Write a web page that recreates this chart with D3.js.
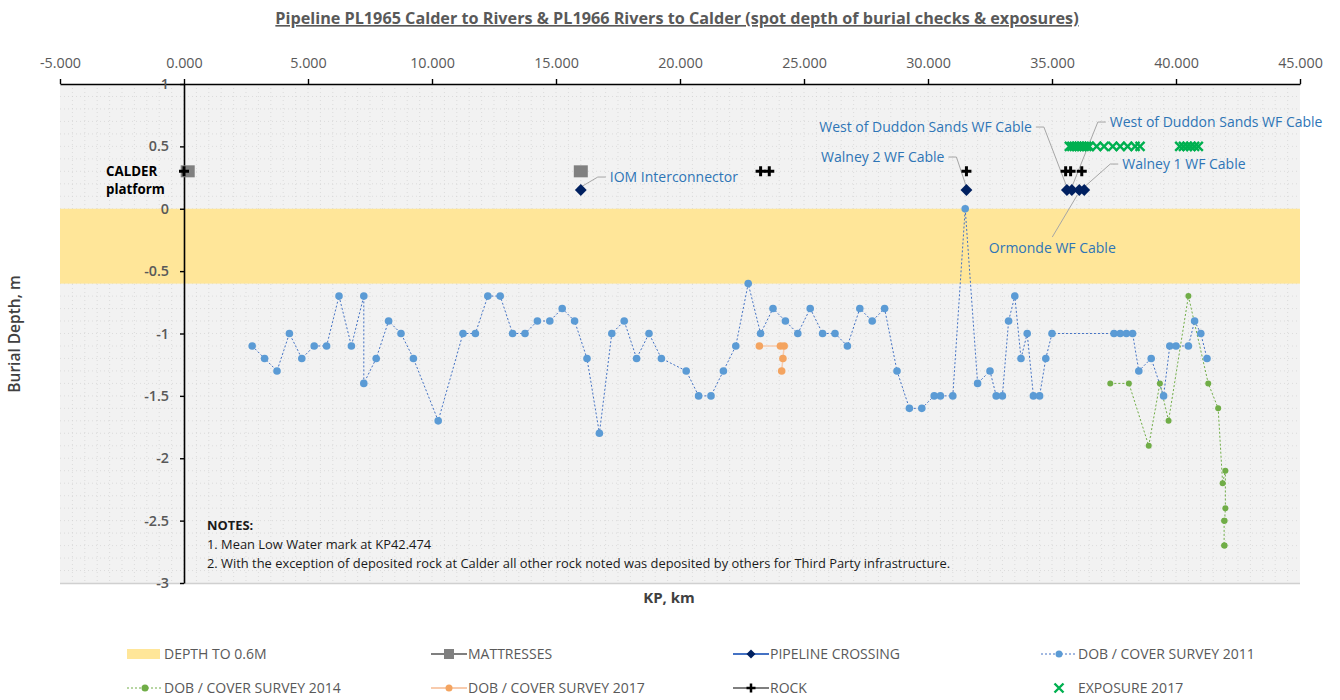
<!DOCTYPE html>
<html>
<head>
<meta charset="utf-8">
<script src="https://cdn.jsdelivr.net/npm/d3@7"></script>
<style>
body { margin: 0; background: #fff; }
svg { display: block; font-family: "Open Sans", sans-serif; }
</style>
</head>
<body>
<svg id="chart" width="1340" height="700"></svg>
<script>
// tick values
const kpTicks = d3.range(-5, 46, 5);
const depthTicks = [1, 0.5, 0, -0.5, -1, -1.5, -2, -2.5, -3];

// depth band (0 to -0.6 m)
const coverBand = [0, -0.6];

// [kp, depth]
const survey2011 = [
    [2.75, -1.1], [3.25, -1.2], [3.75, -1.3], [4.25, -1.0], [4.75, -1.2], [5.25, -1.1],
    [5.75, -1.1], [6.25, -0.7], [6.75, -1.1], [7.25, -0.7], [7.25, -1.4], [7.75, -1.2],
    [8.25, -0.9], [8.75, -1.0], [9.25, -1.2], [10.25, -1.7], [11.25, -1.0], [11.75, -1.0],
    [12.25, -0.7], [12.75, -0.7], [13.25, -1.0], [13.75, -1.0], [14.25, -0.9], [14.75, -0.9],
    [15.25, -0.8], [15.75, -0.9], [16.25, -1.2], [16.75, -1.8], [17.25, -1.0], [17.75, -0.9],
    [18.25, -1.2], [18.75, -1.0], [19.25, -1.2], [20.25, -1.3], [20.75, -1.5], [21.25, -1.5],
    [21.75, -1.3], [22.25, -1.1], [22.75, -0.6], [23.25, -1.0], [23.75, -0.8], [24.25, -0.9],
    [24.75, -1.0], [25.25, -0.8], [25.75, -1.0], [26.25, -1.0], [26.75, -1.1], [27.25, -0.8],
    [27.75, -0.9], [28.25, -0.8], [28.75, -1.3], [29.25, -1.6], [29.75, -1.6], [30.25, -1.5],
    [30.5, -1.5], [31.0, -1.5], [31.5, 0.0], [32.0, -1.4], [32.5, -1.3], [32.75, -1.5],
    [33.0, -1.5], [33.25, -0.9], [33.5, -0.7], [33.75, -1.2], [34.0, -1.0], [34.25, -1.5],
    [34.5, -1.5], [34.75, -1.2], [35.0, -1.0], [37.5, -1.0], [37.75, -1.0], [38.0, -1.0],
    [38.25, -1.0], [38.5, -1.3], [39.0, -1.2], [39.5, -1.5], [39.75, -1.1], [40.0, -1.1],
    [40.5, -1.1], [40.75, -0.9], [41.0, -1.0], [41.25, -1.2]
];

const survey2014 = [
    [37.35, -1.4], [38.1, -1.4], [38.9, -1.9], [39.35, -1.4], [39.7, -1.7], [40.5, -0.7],
    [41.3, -1.4], [41.7, -1.6], [41.88, -2.2], [41.99, -2.1], [41.99, -2.4], [41.96, -2.5],
    [41.94, -2.5], [41.94, -2.7], [41.96, -2.7]
];

const survey2017 = [
    [23.2, -1.1], [24.05, -1.1], [24.2, -1.1], [24.15, -1.2], [24.1, -1.3]
];

const mattresses = [[0.15, 0.3], [16.0, 0.3]];

const crossings = [
    [16.0, 0.15], [31.55, 0.15], [35.6, 0.15], [35.8, 0.15], [36.1, 0.15], [36.3, 0.15]
];

const rock = [
    [0.0, 0.3], [23.25, 0.3], [23.6, 0.3], [31.55, 0.3], [35.55, 0.3], [35.75, 0.3], [36.2, 0.3]
];

const exposures = [
    [35.7, 0.5], [35.8, 0.5], [35.9, 0.5], [36.0, 0.5], [36.1, 0.5], [36.2, 0.5], [36.3, 0.5],
    [36.4, 0.5], [36.5, 0.5], [36.8, 0.5], [37.1, 0.5], [37.45, 0.5], [37.75, 0.5], [38.05, 0.5],
    [38.35, 0.5], [38.55, 0.5],
    [40.15, 0.5], [40.3, 0.5], [40.45, 0.5], [40.6, 0.5], [40.75, 0.5], [40.9, 0.5]
];

// crossing labels: anchored on a crossing point, label offset in px
const crossingLabels = [
    { kp: 16.0, depth: 0.15, text: 'IOM Interconnector', dx: 29, dy: -13, anchor: 'start' },
    { kp: 31.55, depth: 0.15, text: 'Walney 2 WF Cable', dx: -22, dy: -33, anchor: 'end' },
    { kp: 35.6, depth: 0.15, text: 'West of Duddon Sands WF Cable', dx: -35, dy: -63, anchor: 'end' },
    { kp: 35.8, depth: 0.15, text: 'West of Duddon Sands WF Cable', dx: 38, dy: -68, anchor: 'start' },
    { kp: 36.3, depth: 0.15, text: 'Walney 1 WF Cable', dx: 38, dy: -26, anchor: 'start' },
    { kp: 36.1, depth: 0.15, text: 'Ormonde WF Cable', dx: -27, dy: 58, anchor: 'middle' }
];

const notes = [
    'NOTES:',
    '1. Mean Low Water mark at KP42.474',
    '2. With the exception of deposited rock at Calder all other rock noted was deposited by others for Third Party infrastructure.'
];

const legendItems = [
    { key: 'band', label: 'DEPTH TO 0.6M' },
    { key: 'mattress', label: 'MATTRESSES' },
    { key: 'crossing', label: 'PIPELINE CROSSING' },
    { key: 's2011', label: 'DOB / COVER SURVEY 2011' },
    { key: 's2014', label: 'DOB / COVER SURVEY 2014' },
    { key: 's2017', label: 'DOB / COVER SURVEY 2017' },
    { key: 'rock', label: 'ROCK' },
    { key: 'exposure', label: 'EXPOSURE 2017' }
];

const colors = {
    band: '#FFE699',
    mattress: '#808080',
    crossing: '#002060',
    crossingLine: '#4472C4',
    s2011: '#5B9BD5',
    s2011Line: '#4472C4',
    s2014: '#70AD47',
    s2017: '#F4A460',
    s2017Line: '#F8CBAD',
    rock: '#000000',
    exposure: '#00B050',
    label: '#2E75B6',
    axisText: '#595959'
};

const svg = d3.select('#chart');

const x = d3.scaleLinear().domain([-5, 45]).range([60, 1300]);
const y = d3.scaleLinear().domain([-3, 1]).range([583, 84]);

const plotLeft = x.range()[0], plotRight = x.range()[1];
const plotTop = y.range()[1], plotBottom = y.range()[0];

// title
svg.append('text')
    .attr('x', 677)
    .attr('y', 24)
    .attr('text-anchor', 'middle')
    .attr('fill', colors.axisText)
    .style('font-size', '16.2px')
    .style('font-weight', 'bold')
    .style('text-decoration', 'underline')
    .text('Pipeline PL1965 Calder to Rivers & PL1966 Rivers to Calder (spot depth of burial checks & exposures)');

// plot background
svg.append('rect')
    .attr('x', plotLeft)
    .attr('y', plotTop)
    .attr('width', plotRight - plotLeft)
    .attr('height', plotBottom - plotTop)
    .attr('fill', '#F2F2F2');

// gridlines
const grid = svg.append('g').attr('stroke', '#D2D2D2').attr('stroke-width', 0.7).attr('stroke-dasharray', '1,3');
grid.selectAll('.vg')
    .data(d3.range(-4.5, 45, 0.5))
    .enter()
    .append('line')
    .attr('x1', d => x(d)).attr('x2', d => x(d))
    .attr('y1', plotTop).attr('y2', plotBottom);
grid.selectAll('.hg')
    .data(d3.range(-29, 10).map(d => d / 10))
    .enter()
    .append('line')
    .attr('x1', plotLeft).attr('x2', plotRight)
    .attr('y1', d => y(d)).attr('y2', d => y(d));

svg.append('line')
    .attr('x1', plotLeft).attr('x2', plotRight)
    .attr('y1', plotBottom + 0.5).attr('y2', plotBottom + 0.5)
    .attr('stroke', '#D0D0D0').attr('stroke-width', 1.5);

// band
svg.append('rect')
    .attr('x', plotLeft)
    .attr('width', plotRight - plotLeft)
    .attr('y', y(coverBand[0]))
    .attr('height', y(coverBand[1]) - y(coverBand[0]))
    .attr('fill', colors.band);

// axes
const xAxis = d3.axisTop(x)
    .tickValues(kpTicks)
    .tickFormat(d => d.toFixed(3))
    .tickSize(5)
    .tickSizeOuter(0)
    .tickPadding(11);

const gx = svg.append('g')
    .attr('transform', `translate(0, ${plotTop})`)
    .call(xAxis);

const yAxis = d3.axisLeft(y)
    .tickValues(depthTicks)
    .tickFormat(d => String(d))
    .tickSize(4)
    .tickSizeOuter(0)
    .tickPadding(11);

const gy = svg.append('g')
    .attr('transform', `translate(${x(0)}, 0)`)
    .call(yAxis);

[gx, gy].forEach(g => {
    g.select('.domain').attr('stroke', '#000').attr('stroke-width', 1.6);
    g.selectAll('.tick line').attr('stroke', '#000').attr('stroke-width', 1.4);
    g.selectAll('.tick text')
        .attr('fill', colors.axisText)
        .style('font-family', '"Open Sans", sans-serif')
        .style('font-size', '14.3px');
});
gy.selectAll('.tick text').style('font-weight', '600');

// axis titles
svg.append('text')
    .attr('x', 669)
    .attr('y', 603)
    .attr('text-anchor', 'middle')
    .attr('fill', '#404040')
    .style('font-size', '15px')
    .style('font-weight', 'bold')
    .text('KP, km');

svg.append('text')
    .attr('transform', 'translate(20, 334) rotate(-90)')
    .attr('text-anchor', 'middle')
    .attr('fill', '#404040')
    .style('font-size', '15.5px')
    .style('font-weight', '600')
    .text('Burial Depth, m');

// marker helpers
const plusPath = 'M-5,0H5M0,-5V5';
const crossPath = 'M-4.5,-4.5L4.5,4.5M-4.5,4.5L4.5,-4.5';
const diamond = d3.symbol().type(d3.symbolSquare).size(70)();

const line = d3.line().x(d => x(d[0])).y(d => y(d[1]));

// survey lines
svg.append('path')
    .datum(survey2011)
    .attr('d', line)
    .attr('fill', 'none')
    .attr('stroke', colors.s2011Line)
    .attr('stroke-width', 1)
    .attr('stroke-dasharray', '2,2');

svg.append('path')
    .datum(survey2014)
    .attr('d', line)
    .attr('fill', 'none')
    .attr('stroke', colors.s2014)
    .attr('stroke-width', 1)
    .attr('stroke-dasharray', '2,2');

svg.append('path')
    .datum(survey2017)
    .attr('d', line)
    .attr('fill', 'none')
    .attr('stroke', colors.s2017Line)
    .attr('stroke-width', 1.5);

// leader lines + labels
const labels = svg.append('g');
crossingLabels.forEach(a => {
    const px = x(a.kp), py = y(a.depth);
    const lx = px + a.dx, ly = py + a.dy;
    let pts;
    if (a.anchor === 'middle') {
        pts = [[px - 2, py + 5], [lx, ly - 11]];
    } else {
        const s = a.anchor === 'start' ? -1 : 1;
        pts = [[px, py - 3], [lx + s * 12, ly], [lx + s * 4, ly]];
    }
    labels.append('path')
        .attr('d', d3.line()(pts))
        .attr('fill', 'none')
        .attr('stroke', '#A6A6A6')
        .attr('stroke-width', 1);
    labels.append('text')
        .attr('x', lx)
        .attr('y', ly)
        .attr('dy', '0.35em')
        .attr('text-anchor', a.anchor)
        .attr('fill', colors.label)
        .style('font-size', '14px')
        .text(a.text);
});

// calder platform label
const calder = svg.append('text')
    .attr('x', x(0) - 78)
    .attr('y', y(0.3))
    .attr('fill', '#000')
    .style('font-size', '13.3px')
    .style('font-weight', 'bold');
calder.append('tspan').attr('x', x(0) - 78).attr('dy', '0.35em').text('CALDER');
calder.append('tspan').attr('x', x(0) - 78).attr('dy', '1.35em').text('platform');

// survey markers
svg.append('g')
    .selectAll('circle')
    .data(survey2011)
    .enter()
    .append('circle')
    .attr('cx', d => x(d[0]))
    .attr('cy', d => y(d[1]))
    .attr('r', 3.8)
    .attr('fill', colors.s2011);

svg.append('g')
    .selectAll('circle')
    .data(survey2014)
    .enter()
    .append('circle')
    .attr('cx', d => x(d[0]))
    .attr('cy', d => y(d[1]))
    .attr('r', 3)
    .attr('fill', colors.s2014);

svg.append('g')
    .selectAll('circle')
    .data(survey2017)
    .enter()
    .append('circle')
    .attr('cx', d => x(d[0]))
    .attr('cy', d => y(d[1]))
    .attr('r', 3.8)
    .attr('fill', colors.s2017);

// mattresses
svg.append('g')
    .selectAll('rect')
    .data(mattresses)
    .enter()
    .append('rect')
    .attr('x', d => x(d[0]) - 7)
    .attr('y', d => y(d[1]) - 6)
    .attr('width', 14)
    .attr('height', 12)
    .attr('fill', colors.mattress);

// exposures
svg.append('g')
    .selectAll('path')
    .data(exposures)
    .enter()
    .append('path')
    .attr('transform', d => `translate(${x(d[0])}, ${y(d[1])})`)
    .attr('d', crossPath)
    .attr('stroke', colors.exposure)
    .attr('stroke-width', 2.4);

// rock
svg.append('g')
    .selectAll('path')
    .data(rock)
    .enter()
    .append('path')
    .attr('transform', d => `translate(${x(d[0])}, ${y(d[1])})`)
    .attr('d', plusPath)
    .attr('stroke', colors.rock)
    .attr('stroke-width', 3);

// pipeline crossings
svg.append('g')
    .selectAll('path')
    .data(crossings)
    .enter()
    .append('path')
    .attr('transform', d => `translate(${x(d[0])}, ${y(d[1])}) rotate(45)`)
    .attr('d', diamond)
    .attr('fill', colors.crossing);

// notes
svg.append('g')
    .selectAll('text')
    .data(notes)
    .enter()
    .append('text')
    .attr('x', 207)
    .attr('y', (d, i) => 530 + i * 19)
    .attr('fill', '#1a1a1a')
    .style('font-size', '12.9px')
    .style('font-weight', (d, i) => i === 0 ? 'bold' : 'normal')
    .text(d => d);

// legend
const legendCols = [127, 431, 733, 1041];
const legendRows = [654, 688];

const legend = svg.append('g')
    .selectAll('g')
    .data(legendItems)
    .enter()
    .append('g')
    .attr('transform', (d, i) => `translate(${legendCols[i % 4]}, ${legendRows[Math.floor(i / 4)]})`);

legend.each(function (d) {
    const g = d3.select(this);
    const mid = 18;
    if (d.key === 'band') {
        g.append('rect').attr('x', 0).attr('y', -5).attr('width', 33).attr('height', 10).attr('fill', colors.band);
    } else if (d.key === 'exposure') {
        g.append('path').attr('transform', `translate(${mid}, 0)`).attr('d', crossPath)
            .attr('stroke', colors.exposure).attr('stroke-width', 2.4);
    } else {
        const lineStyle = {
            mattress: ['#7F7F7F', 2, null],
            crossing: [colors.crossingLine, 2, null],
            s2011: [colors.s2011Line, 1, '2,2'],
            s2014: [colors.s2014, 1, '2,2'],
            s2017: [colors.s2017Line, 2, null],
            rock: ['#7F7F7F', 2, null]
        }[d.key];
        g.append('line').attr('x1', 0).attr('x2', 36).attr('y1', 0).attr('y2', 0)
            .attr('stroke', lineStyle[0]).attr('stroke-width', lineStyle[1])
            .attr('stroke-dasharray', lineStyle[2]);
        if (d.key === 'mattress') {
            g.append('rect').attr('x', mid - 5).attr('y', -5).attr('width', 10).attr('height', 10).attr('fill', colors.mattress);
        } else if (d.key === 'crossing') {
            g.append('path').attr('transform', `translate(${mid}, 0) rotate(45)`)
                .attr('d', d3.symbol().type(d3.symbolSquare).size(40)()).attr('fill', colors.crossing);
        } else if (d.key === 'rock') {
            g.append('path').attr('transform', `translate(${mid}, 0)`).attr('d', 'M-4.5,0H4.5M0,-4.5V4.5')
                .attr('stroke', '#000').attr('stroke-width', 2.5);
        } else {
            const c = { s2011: colors.s2011, s2014: colors.s2014, s2017: colors.s2017 }[d.key];
            g.append('circle').attr('cx', mid).attr('cy', 0).attr('r', 3.5).attr('fill', c);
        }
    }
    g.append('text')
        .attr('x', 37)
        .attr('y', 0)
        .attr('dy', '0.35em')
        .attr('fill', colors.axisText)
        .style('font-size', '14px')
        .text(d.label);
});
</script>
</body>
</html>
